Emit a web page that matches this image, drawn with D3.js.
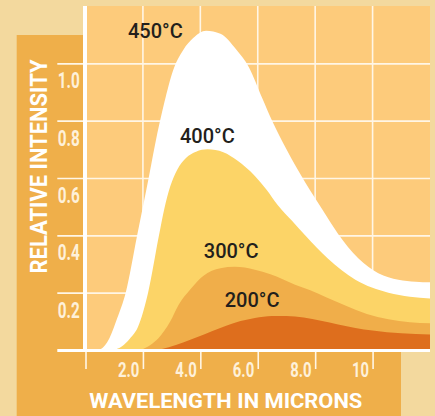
<!DOCTYPE html>
<html><head><meta charset="utf-8">
<script src="https://cdn.jsdelivr.net/npm/d3@7"></script>
<style>
html,body{margin:0;padding:0;background:#F3D99E;}
svg{display:block;}
</style></head>
<body>
<svg id="c" width="435" height="416"></svg>
<script>
// ---- data ----
const series = ["450°C", "400°C", "300°C", "200°C"];
const wave450 = [0.4,0.6,0.8,1.1,1.4,1.8,2.2,2.5,2.75,3.05,3.4,3.75,4.2,4.7,5.25,5.7,6.15,6.5,7.0,7.65,8.25,8.8,9.5,10.2,10.9,11.5,12];
const int450  = [0,0.008,0.035,0.11,0.2,0.4,0.6,0.755,0.865,0.975,1.046,1.088,1.114,1.103,1.048,0.985,0.88,0.80,0.70,0.585,0.49,0.405,0.32,0.268,0.245,0.238,0.236];
const wave400 = [1.0,1.26,1.55,1.83,2.18,2.56,2.74,2.95,3.2,3.5,3.85,4.25,4.8,5.3,5.9,6.3,6.7,7.2,7.65,8.45,9.4,10.55,11.3,12];
const int400  = [0,0.012,0.04,0.081,0.2,0.4,0.49,0.57,0.63,0.67,0.692,0.70,0.69,0.66,0.607,0.56,0.505,0.45,0.40,0.318,0.245,0.2,0.186,0.18];
const wave300 = [1.9,2.25,2.54,2.95,3.24,3.64,4.1,4.7,5.2,5.9,6.44,7.3,7.83,8.4,9.05,9.8,10.55,11.3,12];
const int300  = [0,0.017,0.041,0.099,0.157,0.21,0.258,0.285,0.29,0.28,0.264,0.228,0.208,0.183,0.155,0.126,0.107,0.097,0.093];
const wave200 = [2.5,2.9,3.4,3.9,4.4,4.9,5.4,5.9,6.5,7.0,7.6,8.2,8.8,9.4,10.0,11.0,12];
const int200  = [0,0.01,0.026,0.045,0.065,0.085,0.101,0.112,0.119,0.119,0.113,0.102,0.089,0.077,0.068,0.058,0.054];
const xTicks = [0,2,4,6,8,10];
const xTickLabels = ["", "2.0", "4.0", "6.0", "8.0", "10"];
const yTicks = [0.2,0.4,0.6,0.8,1.0];
const yTickLabels = ["0.2","0.4","0.6","0.8","1.0"];
const xTitle = "WAVELENGTH IN MICRONS";
const yTitle = "RELATIVE INTENSITY";

// ---- drawing ----
const svg = d3.select("#c");
const x = d3.scaleLinear().domain([0,12]).range([85.5,430]);
const y = d3.scaleLinear().domain([0,1.2]).range([350,6]);
const fills = ["#FFFFFF","#FCD467","#F0AE4A","#DE6E1D"];
const col = d3.scaleOrdinal().domain(series).range(fills);

function squeeze(sel, w){
  sel.each(function(){ this.setAttribute("textLength", w); this.setAttribute("lengthAdjust","spacingAndGlyphs"); });
}

// panel
svg.append("rect").attr("x",16.7).attr("y",35).attr("width",401-16.7).attr("height",416-35).attr("fill","#EFAF4A");
// plot background
svg.append("rect").attr("x",x(0)).attr("y",y(1.2)).attr("width",x(12)-x(0)).attr("height",y(0)-y(1.2)).attr("fill","#FDCB7B");

// vertical grid
svg.append("g").selectAll("line").data(xTicks.slice(1)).join("line")
  .attr("x1",d=>x(d)).attr("x2",d=>x(d)).attr("y1",y(1.2)).attr("y2",y(0))
  .attr("stroke","#FFF6E6").attr("stroke-width",1.6);

// y axis (gridlines + labels)
const gy = svg.append("g").attr("transform","translate(57.3,0)")
  .call(d3.axisLeft(y).tickValues(yTicks).tickSize(-(430-57.3)).tickFormat((d,i)=>yTickLabels[i]));
gy.select(".domain").remove();
gy.selectAll(".tick line").attr("stroke","#FFF6E6").attr("stroke-width",1.6);
gy.selectAll(".tick text").attr("x",0.5).attr("dy",null).attr("y",24.5)
  .attr("text-anchor","start").attr("fill","#FEF1DA")
  .style("font-family","Roboto, 'DejaVu Sans', sans-serif").style("font-weight","700").style("font-size","22px")
  .call(squeeze, 22);

// areas
const sets = [[wave450,int450],[wave400,int400],[wave300,int300],[wave200,int200]];
const area = d3.area().x(d=>x(d[0])).y0(y(0)).y1(d=>y(d[1])).curve(d3.curveMonotoneX);
svg.append("g").selectAll("path").data(series).join("path")
  .attr("d",(s,i)=>area(sets[i][0].map((w,j)=>[w,sets[i][1][j]])))
  .attr("fill",s=>col(s));

// y axis line
svg.append("line").attr("x1",85).attr("x2",85).attr("y1",y(1.2)).attr("y2",y(0)+2)
  .attr("stroke","#FFFFFF").attr("stroke-width",4);

// x axis
const gx = svg.append("g").attr("transform",`translate(0,${y(0)+2})`)
  .call(d3.axisBottom(x).tickValues(xTicks).tickSize(17).tickFormat((d,i)=>xTickLabels[i]));
gx.select(".domain").remove();
gx.selectAll(".tick line").attr("stroke","#FFF6E6").attr("stroke-width",1.6);
gx.selectAll(".tick text").attr("x",-4).attr("dy",null).attr("y",24.5)
  .attr("text-anchor","end").attr("fill","#FEF1DA")
  .style("font-family","Roboto, 'DejaVu Sans', sans-serif").style("font-weight","700").style("font-size","21px")
  .each(function(d,i){ const t=xTickLabels[i]; this.setAttribute("textLength", t.length===2?17:21.5); this.setAttribute("lengthAdjust","spacingAndGlyphs"); });
svg.append("line").attr("x1",57.3).attr("x2",430).attr("y1",y(0)+0.5).attr("y2",y(0)+0.5)
  .attr("stroke","#FFFFFF").attr("stroke-width",3);

// titles
svg.append("text").attr("x",89.3).attr("y",408).text(xTitle)
  .attr("fill","#FFFFFF").style("font-family","Roboto, 'DejaVu Sans', sans-serif").style("font-weight","700").style("font-size","21px")
  .call(squeeze, 273);
svg.append("text").attr("transform","translate(46.7,273.5) rotate(-90)").text(yTitle)
  .attr("fill","#FFFFFF").style("font-family","Roboto, 'DejaVu Sans', sans-serif").style("font-weight","700").style("font-size","23.5px")
  .call(squeeze, 214);

// series labels
const labelPos = [[1.48,1.088],[3.29,0.722],[4.12,0.321],[4.85,0.15]];
svg.append("g").selectAll("text").data(series).join("text")
  .attr("x",(s,i)=>x(labelPos[i][0])).attr("y",(s,i)=>y(labelPos[i][1]))
  .text(s=>s).attr("fill","#231F1C")
  .style("font-family","Roboto, sans-serif").style("font-weight","500").style("font-size","20px");
</script>
</body></html>
